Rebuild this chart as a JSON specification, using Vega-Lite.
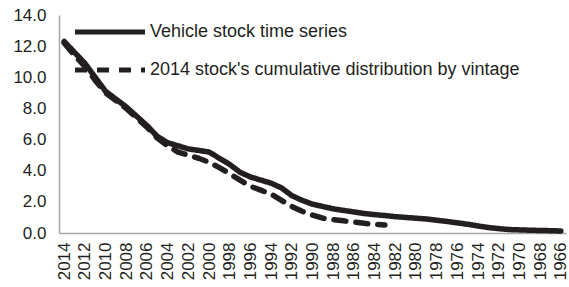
{
  "$schema": "https://vega.github.io/schema/vega-lite/v6.json",
  "width": 507,
  "height": 218,
  "autosize": "none",
  "padding": {"left": 59, "top": 15, "right": 3, "bottom": 54},
  "background": "white",
  "config": {
    "view": {"stroke": null},
    "font": "Liberation Sans"
  },
  "data": {
    "values": [
      {"year": 2014, "series": "Vehicle stock time series", "value": 12.3},
      {"year": 2013, "series": "Vehicle stock time series", "value": 11.6},
      {"year": 2012, "series": "Vehicle stock time series", "value": 10.9},
      {"year": 2011, "series": "Vehicle stock time series", "value": 10.0},
      {"year": 2010, "series": "Vehicle stock time series", "value": 9.1},
      {"year": 2009, "series": "Vehicle stock time series", "value": 8.6},
      {"year": 2008, "series": "Vehicle stock time series", "value": 8.1},
      {"year": 2007, "series": "Vehicle stock time series", "value": 7.5},
      {"year": 2006, "series": "Vehicle stock time series", "value": 6.9},
      {"year": 2005, "series": "Vehicle stock time series", "value": 6.2},
      {"year": 2004, "series": "Vehicle stock time series", "value": 5.8},
      {"year": 2003, "series": "Vehicle stock time series", "value": 5.6},
      {"year": 2002, "series": "Vehicle stock time series", "value": 5.4},
      {"year": 2001, "series": "Vehicle stock time series", "value": 5.3},
      {"year": 2000, "series": "Vehicle stock time series", "value": 5.2},
      {"year": 1999, "series": "Vehicle stock time series", "value": 4.8},
      {"year": 1998, "series": "Vehicle stock time series", "value": 4.4},
      {"year": 1997, "series": "Vehicle stock time series", "value": 3.9},
      {"year": 1996, "series": "Vehicle stock time series", "value": 3.6},
      {"year": 1995, "series": "Vehicle stock time series", "value": 3.4},
      {"year": 1994, "series": "Vehicle stock time series", "value": 3.2},
      {"year": 1993, "series": "Vehicle stock time series", "value": 2.9},
      {"year": 1992, "series": "Vehicle stock time series", "value": 2.4},
      {"year": 1991, "series": "Vehicle stock time series", "value": 2.1},
      {"year": 1990, "series": "Vehicle stock time series", "value": 1.85},
      {"year": 1989, "series": "Vehicle stock time series", "value": 1.7},
      {"year": 1988, "series": "Vehicle stock time series", "value": 1.55},
      {"year": 1987, "series": "Vehicle stock time series", "value": 1.45},
      {"year": 1986, "series": "Vehicle stock time series", "value": 1.35},
      {"year": 1985, "series": "Vehicle stock time series", "value": 1.25},
      {"year": 1984, "series": "Vehicle stock time series", "value": 1.18},
      {"year": 1983, "series": "Vehicle stock time series", "value": 1.12},
      {"year": 1982, "series": "Vehicle stock time series", "value": 1.05},
      {"year": 1981, "series": "Vehicle stock time series", "value": 1.0},
      {"year": 1980, "series": "Vehicle stock time series", "value": 0.95},
      {"year": 1979, "series": "Vehicle stock time series", "value": 0.9},
      {"year": 1978, "series": "Vehicle stock time series", "value": 0.82},
      {"year": 1977, "series": "Vehicle stock time series", "value": 0.74},
      {"year": 1976, "series": "Vehicle stock time series", "value": 0.65},
      {"year": 1975, "series": "Vehicle stock time series", "value": 0.56},
      {"year": 1974, "series": "Vehicle stock time series", "value": 0.45},
      {"year": 1973, "series": "Vehicle stock time series", "value": 0.35},
      {"year": 1972, "series": "Vehicle stock time series", "value": 0.28},
      {"year": 1971, "series": "Vehicle stock time series", "value": 0.22},
      {"year": 1970, "series": "Vehicle stock time series", "value": 0.2},
      {"year": 1969, "series": "Vehicle stock time series", "value": 0.18},
      {"year": 1968, "series": "Vehicle stock time series", "value": 0.16},
      {"year": 1967, "series": "Vehicle stock time series", "value": 0.15},
      {"year": 1966, "series": "Vehicle stock time series", "value": 0.13},
      {"year": 2014, "series": "2014 stock's cumulative distribution by vintage", "value": 12.2},
      {"year": 2013, "series": "2014 stock's cumulative distribution by vintage", "value": 11.4},
      {"year": 2012, "series": "2014 stock's cumulative distribution by vintage", "value": 10.7},
      {"year": 2011, "series": "2014 stock's cumulative distribution by vintage", "value": 9.8},
      {"year": 2010, "series": "2014 stock's cumulative distribution by vintage", "value": 9.0},
      {"year": 2009, "series": "2014 stock's cumulative distribution by vintage", "value": 8.5},
      {"year": 2008, "series": "2014 stock's cumulative distribution by vintage", "value": 8.0},
      {"year": 2007, "series": "2014 stock's cumulative distribution by vintage", "value": 7.4},
      {"year": 2006, "series": "2014 stock's cumulative distribution by vintage", "value": 6.8},
      {"year": 2005, "series": "2014 stock's cumulative distribution by vintage", "value": 6.1},
      {"year": 2004, "series": "2014 stock's cumulative distribution by vintage", "value": 5.6},
      {"year": 2003, "series": "2014 stock's cumulative distribution by vintage", "value": 5.2},
      {"year": 2002, "series": "2014 stock's cumulative distribution by vintage", "value": 5.0},
      {"year": 2001, "series": "2014 stock's cumulative distribution by vintage", "value": 4.8},
      {"year": 2000, "series": "2014 stock's cumulative distribution by vintage", "value": 4.55},
      {"year": 1999, "series": "2014 stock's cumulative distribution by vintage", "value": 4.2},
      {"year": 1998, "series": "2014 stock's cumulative distribution by vintage", "value": 3.8},
      {"year": 1997, "series": "2014 stock's cumulative distribution by vintage", "value": 3.4},
      {"year": 1996, "series": "2014 stock's cumulative distribution by vintage", "value": 3.0},
      {"year": 1995, "series": "2014 stock's cumulative distribution by vintage", "value": 2.75},
      {"year": 1994, "series": "2014 stock's cumulative distribution by vintage", "value": 2.5},
      {"year": 1993, "series": "2014 stock's cumulative distribution by vintage", "value": 2.1},
      {"year": 1992, "series": "2014 stock's cumulative distribution by vintage", "value": 1.7},
      {"year": 1991, "series": "2014 stock's cumulative distribution by vintage", "value": 1.4},
      {"year": 1990, "series": "2014 stock's cumulative distribution by vintage", "value": 1.15},
      {"year": 1989, "series": "2014 stock's cumulative distribution by vintage", "value": 0.95},
      {"year": 1988, "series": "2014 stock's cumulative distribution by vintage", "value": 0.85},
      {"year": 1987, "series": "2014 stock's cumulative distribution by vintage", "value": 0.78},
      {"year": 1986, "series": "2014 stock's cumulative distribution by vintage", "value": 0.7},
      {"year": 1985, "series": "2014 stock's cumulative distribution by vintage", "value": 0.62},
      {"year": 1984, "series": "2014 stock's cumulative distribution by vintage", "value": 0.56},
      {"year": 1983, "series": "2014 stock's cumulative distribution by vintage", "value": 0.52}
    ]
  },
  "mark": {"type": "line", "color": "#231f20", "strokeWidth": 5.5, "strokeCap": "round", "strokeJoin": "round"},
  "encoding": {
    "x": {
      "field": "year",
      "type": "ordinal",
      "sort": "descending",
      "scale": {"type": "point", "padding": 0.5},
      "axis": {
        "title": null,
        "values": [2014, 2012, 2010, 2008, 2006, 2004, 2002, 2000, 1998, 1996, 1994, 1992, 1990, 1988, 1986, 1984, 1982, 1980, 1978, 1976, 1974, 1972, 1970, 1968, 1966],
        "labelAngle": -90,
        "labelFontSize": 17,
        "labelColor": "#231f20",
        "labelPadding": 9,
        "ticks": false,
        "domainColor": "#a6a6a6",
        "domainWidth": 1.5,
        "grid": false
      }
    },
    "y": {
      "field": "value",
      "type": "quantitative",
      "scale": {"domain": [0, 14], "nice": false},
      "axis": {
        "title": null,
        "values": [0, 2, 4, 6, 8, 10, 12, 14],
        "format": ".1f",
        "labelFontSize": 17,
        "labelColor": "#231f20",
        "labelPadding": 13,
        "ticks": false,
        "domainColor": "#a6a6a6",
        "domainWidth": 1.5,
        "grid": false
      }
    },
    "strokeDash": {
      "field": "series",
      "type": "nominal",
      "scale": {
        "domain": ["Vehicle stock time series", "2014 stock's cumulative distribution by vintage"],
        "range": [[1, 0], [12, 10]]
      },
      "legend": {
        "title": null,
        "orient": "none",
        "legendX": 42,
        "legendY": 8,
        "padding": 0,
        "symbolType": "M-7,0H7",
        "symbolSize": 100,
        "symbolStrokeWidth": 5,
        "symbolStrokeColor": "#231f20",
        "rowPadding": 18,
        "labelFontSize": 18,
        "labelColor": "#231f20",
        "labelOffset": 31,
        "labelLimit": 500
      }
    }
  }
}
